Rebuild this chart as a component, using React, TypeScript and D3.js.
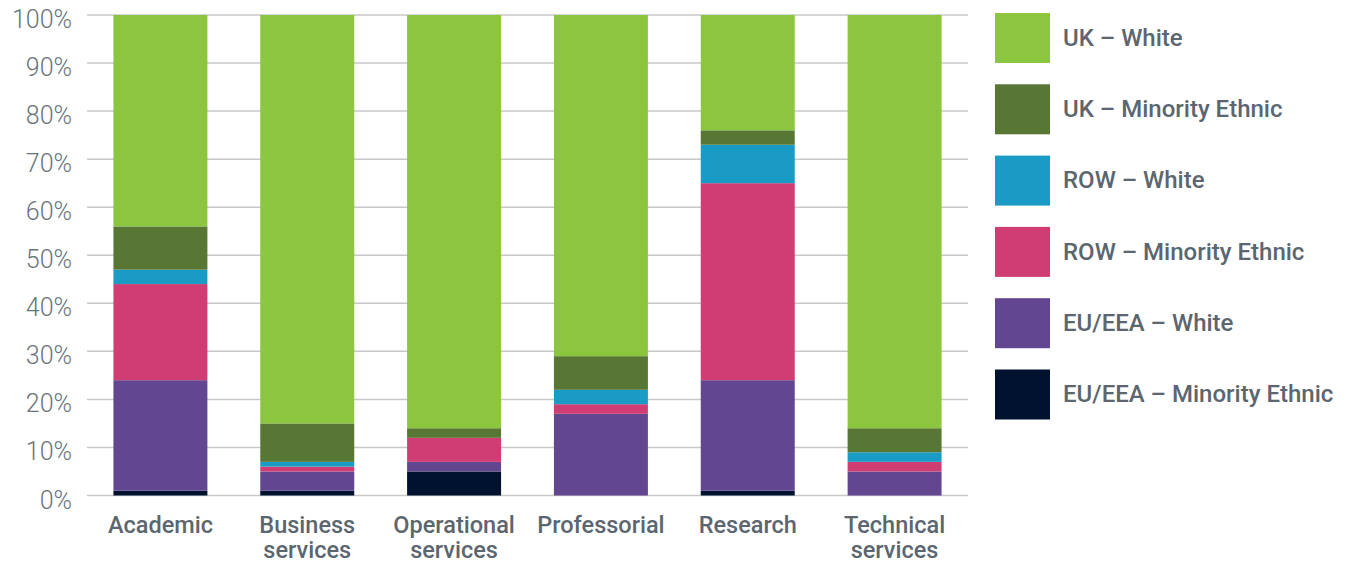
import React from 'react';
import * as d3 from 'd3';

const categories = ['Academic', 'Business services', 'Operational services', 'Professorial', 'Research', 'Technical services'];
const seriesNames = ['EU/EEA – Minority Ethnic', 'EU/EEA – White', 'ROW – Minority Ethnic', 'ROW – White', 'UK – Minority Ethnic', 'UK – White'];
const seriesColors = ['#00122e', '#624690', '#d03d73', '#1a9bc6', '#587634', '#8cc63f'];

// values per series, one entry per category (percent)
const euMinority = [1, 1, 5, 0, 1, 0];
const euWhite = [23, 4, 2, 17, 23, 5];
const rowMinority = [20, 1, 5, 2, 41, 2];
const rowWhite = [3, 1, 0, 3, 8, 2];
const ukMinority = [9, 8, 2, 7, 3, 5];
const ukWhite = [44, 85, 86, 71, 24, 86];

const yTicks = [0, 10, 20, 30, 40, 50, 60, 70, 80, 90, 100];

const W = 1354;
const H = 562;
const margin = { top: 15, left: 87, right: 386, bottom: 66 };

const App = () => {
  const seriesValues = [euMinority, euWhite, rowMinority, rowWhite, ukMinority, ukWhite];
  const table = categories.map((c, i) => {
    const row: Record<string, any> = { category: c };
    seriesNames.forEach((s, j) => (row[s] = seriesValues[j][i]));
    return row;
  });
  const stacked = d3.stack<Record<string, any>>().keys(seriesNames)(table);

  const x = d3.scaleBand()
    .domain(categories)
    .range([margin.left, W - margin.right])
    .paddingInner(0.36)
    .paddingOuter(0.18);
  const y = d3.scaleLinear().domain([0, 100]).range([H - margin.bottom - 0.5, margin.top]);

  const legendOrder = [...seriesNames].reverse();
  const legendColors = [...seriesColors].reverse();

  return (
    <svg width={W} height={H} style={{ position: 'absolute', left: 0, top: 0 }}>
      <g>
        {yTicks.map(t => (
          <g key={t}>
            <line x1={margin.left} x2={W - margin.right} y1={y(t)} y2={y(t)} stroke="#c8c8c8" strokeWidth={1.5} />
            <text x={72} y={y(t)} dy="0.52em" textAnchor="end" fontFamily="Roboto" fontWeight={300} fontSize={25} fill="#6b747b">
              {t}%
            </text>
          </g>
        ))}
      </g>
      <g>
        {stacked.map((layer, j) => (
          <g key={layer.key} fill={seriesColors[j]}>
            {layer.map((d, i) => (
              <rect
                key={i}
                x={x(categories[i])}
                width={x.bandwidth()}
                y={y(d[1])}
                height={Math.max(0, y(d[0]) - y(d[1]))}
              />
            ))}
          </g>
        ))}
      </g>
      <g>
        {categories.map(c => {
          const words = c.split(' ');
          const cx = (x(c) as number) + x.bandwidth() / 2;
          return words.map((w, k) => (
            <text key={c + k} x={cx} y={533 + k * 24.5} textAnchor="middle" fontFamily="Roboto" fontWeight={500} fontSize={23.5} fill="#5b6670">
              {w}
            </text>
          ));
        })}
      </g>
      <g>
        {legendOrder.map((s, i) => (
          <g key={s} transform={`translate(995, ${13 + i * 71.3})`}>
            <rect width={55} height={50} fill={legendColors[i]} />
            <text x={68} y={24} dy="0.36em" fontFamily="Roboto" fontWeight={500} fontSize={24} fill="#5b6670">
              {s}
            </text>
          </g>
        ))}
      </g>
    </svg>
  );
};

export default App;
